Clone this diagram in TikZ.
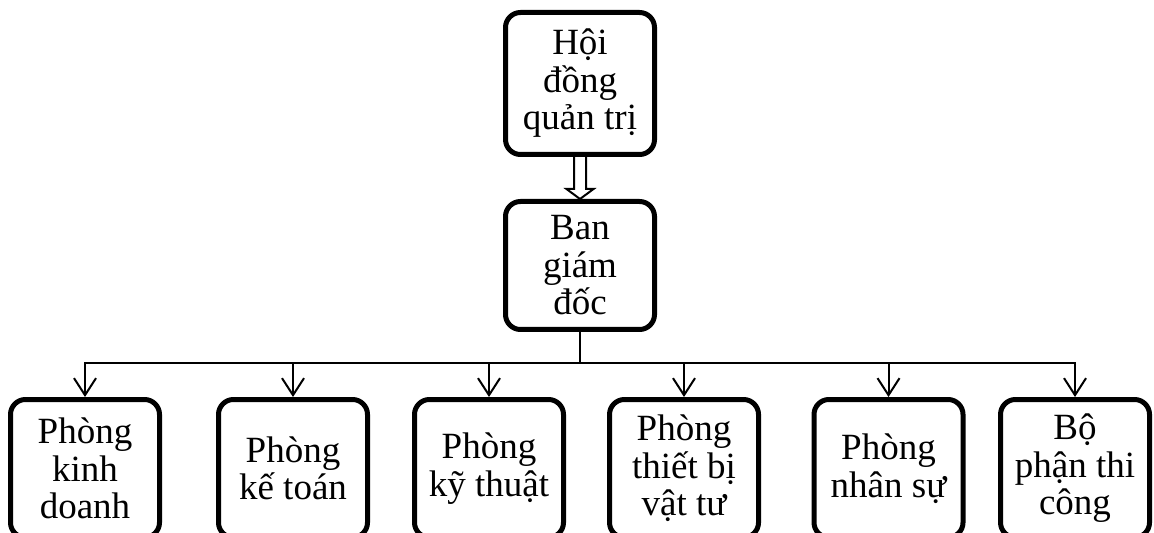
\documentclass[tikz,border=0pt]{standalone}
\usepackage{fontspec}
\setmainfont{Liberation Serif}
\usetikzlibrary{arrows.meta,calc}
\begin{document}
\begin{tikzpicture}[x=0.5pt,y=-0.5pt,
  box/.style={draw, line width=2.5pt, rounded corners=7.5pt, minimum width=74.5pt,
    align=center, inner sep=0pt, font=\fontsize{18.5}{18.75}\selectfont},
  topbox/.style={box, minimum height=71pt},
  midbox/.style={box, minimum height=64pt},
  unitbox/.style={box, minimum height=69pt},
  conn/.style={line width=1pt, line join=miter, -{Straight Barb[length=8.5pt,width=11pt]}},
  hollow/.style={line width=1pt, line join=miter}]
\clip (0,0) rectangle (1154,533);

% management levels
\node[topbox] (hdqt) at (580,83.5) {Hội\\đồng\\quản trị};
\node[midbox] (bgd) at (580,265.5) {Ban\\giám\\đốc};

% departments
\node[unitbox] (kd) at (85,468.5)   {Phòng\\kinh\\doanh};
\node[unitbox] (kt) at (293,468.5)  {Phòng\\kế toán};
\node[unitbox] (kthuat) at (489,468.5) {Phòng\\kỹ thuật};
\node[unitbox] (tb) at (684,468.5)  {Phòng\\thiết bị\\vật tư};
\node[unitbox] (ns) at (888.5,468.5) {Phòng\\nhân sự};
\node[unitbox] (tc) at (1075,468.5) {Bộ\\phận thi\\công};

% hollow arrow between the two management boxes
\draw[hollow] ($(hdqt.south)+(-6,0)$) -- ($(bgd.north)+(-6,-10)$)
  -- ($(bgd.north)+(-13.5,-10)$) -- (bgd.north) -- ($(bgd.north)+(13.5,-10)$)
  -- ($(bgd.north)+(6,-10)$) -- ($(hdqt.south)+(6,0)$);

% distribution bus
\coordinate (bus) at (580,363);
\draw[conn] (bgd.south) -- (bus) -| (kd.north);
\draw[conn] (bus) -| (tc.north);
\draw[conn] (kt.north |- bus) -- (kt.north);
\draw[conn] (kthuat.north |- bus) -- (kthuat.north);
\draw[conn] (tb.north |- bus) -- (tb.north);
\draw[conn] (ns.north |- bus) -- (ns.north);
\end{tikzpicture}
\end{document}
